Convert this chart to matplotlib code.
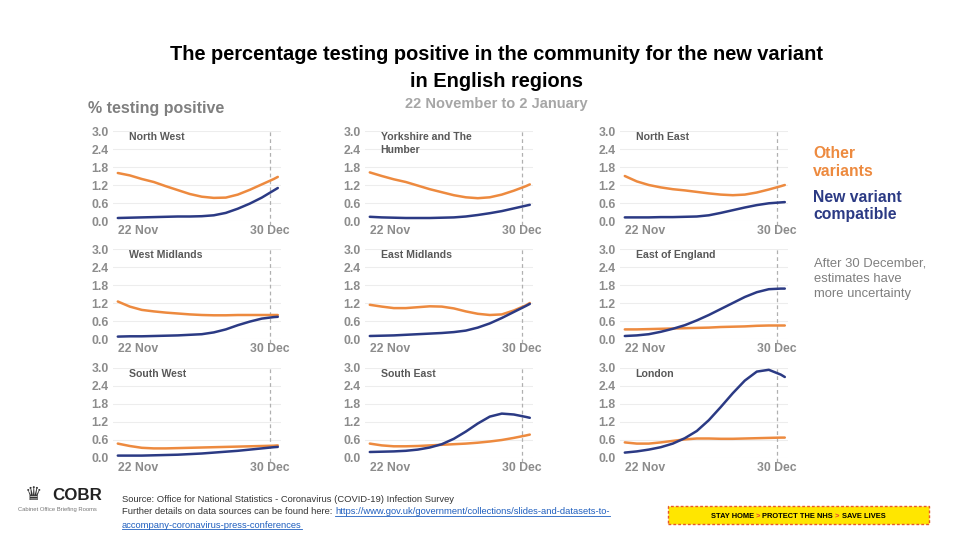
import matplotlib
matplotlib.use("Agg")
import matplotlib.pyplot as plt
import matplotlib.font_manager as fm
from matplotlib.lines import Line2D
from matplotlib.patches import Rectangle

plt.rcParams['font.family'] = ['Liberation Sans', 'DejaVu Sans']

# days since 22 Nov
days = [0, 3, 6, 9, 12, 15, 18, 21, 24, 27, 30, 33, 36, 39, 40]
tick_days = [0, 38]
tick_labels = ['22 Nov', '30 Dec']
y_ticks = [0.0, 0.6, 1.2, 1.8, 2.4, 3.0]

regions = ['North West', 'Yorkshire and The\nHumber', 'North East',
           'West Midlands', 'East Midlands', 'East of England',
           'South West', 'South East', 'London']

other_nw = [1.60, 1.52, 1.40, 1.30, 1.16, 1.03, 0.90, 0.81, 0.77, 0.78, 0.88, 1.04, 1.22, 1.40, 1.47]
new_nw = [0.10, 0.11, 0.12, 0.13, 0.14, 0.15, 0.15, 0.16, 0.19, 0.27, 0.41, 0.58, 0.78, 1.02, 1.10]
other_yh = [1.62, 1.50, 1.39, 1.30, 1.18, 1.06, 0.96, 0.86, 0.79, 0.76, 0.79, 0.88, 1.01, 1.16, 1.22]
new_yh = [0.14, 0.12, 0.11, 0.10, 0.10, 0.10, 0.11, 0.12, 0.15, 0.20, 0.26, 0.33, 0.42, 0.51, 0.54]
other_ne = [1.50, 1.32, 1.20, 1.12, 1.06, 1.02, 0.97, 0.92, 0.88, 0.86, 0.88, 0.95, 1.05, 1.16, 1.20]
new_ne = [0.12, 0.12, 0.12, 0.13, 0.13, 0.14, 0.15, 0.19, 0.27, 0.36, 0.45, 0.53, 0.59, 0.62, 0.63]
other_wm = [1.25, 1.08, 0.97, 0.92, 0.88, 0.85, 0.82, 0.80, 0.79, 0.79, 0.80, 0.80, 0.80, 0.80, 0.80]
new_wm = [0.08, 0.09, 0.09, 0.10, 0.11, 0.12, 0.14, 0.16, 0.22, 0.32, 0.46, 0.58, 0.68, 0.73, 0.74]
other_em = [1.14, 1.08, 1.03, 1.03, 1.06, 1.09, 1.08, 1.02, 0.92, 0.84, 0.80, 0.82, 0.95, 1.12, 1.20]
new_em = [0.10, 0.11, 0.12, 0.14, 0.16, 0.18, 0.20, 0.23, 0.28, 0.38, 0.52, 0.70, 0.90, 1.10, 1.17]
other_ee = [0.32, 0.32, 0.33, 0.34, 0.35, 0.36, 0.37, 0.38, 0.40, 0.41, 0.42, 0.44, 0.45, 0.45, 0.45]
new_ee = [0.10, 0.12, 0.16, 0.24, 0.34, 0.46, 0.62, 0.80, 1.00, 1.20, 1.40, 1.56, 1.66, 1.68, 1.68]
other_sw = [0.48, 0.40, 0.34, 0.32, 0.32, 0.33, 0.34, 0.35, 0.36, 0.37, 0.38, 0.39, 0.40, 0.41, 0.42]
new_sw = [0.08, 0.08, 0.08, 0.09, 0.10, 0.11, 0.13, 0.15, 0.18, 0.21, 0.24, 0.28, 0.32, 0.36, 0.37]
other_se = [0.48, 0.42, 0.39, 0.39, 0.40, 0.42, 0.44, 0.46, 0.48, 0.51, 0.55, 0.60, 0.67, 0.75, 0.78]
new_se = [0.20, 0.21, 0.22, 0.24, 0.28, 0.35, 0.46, 0.64, 0.88, 1.15, 1.38, 1.48, 1.45, 1.37, 1.34]
other_ld = [0.52, 0.48, 0.48, 0.52, 0.57, 0.62, 0.65, 0.65, 0.64, 0.64, 0.65, 0.66, 0.67, 0.68, 0.68]
new_ld = [0.18, 0.22, 0.28, 0.36, 0.48, 0.66, 0.90, 1.26, 1.70, 2.16, 2.58, 2.88, 2.94, 2.78, 2.70]

other_variants = [other_nw, other_yh, other_ne, other_wm, other_em, other_ee, other_sw, other_se, other_ld]
new_variant = [new_nw, new_yh, new_ne, new_wm, new_em, new_ee, new_sw, new_se, new_ld]

ORANGE = '#ED8A3F'
NAVY = '#2B3A84'
W, H = 960, 538

fig = plt.figure(figsize=(9.6, 5.38), dpi=100)
fig.patch.set_facecolor('white')

col_left = [113, 365, 620]
row_zero = [221, 339, 458]

for i in range(9):
    r, c = divmod(i, 3)
    ax = fig.add_axes([col_left[c] / W, (H - row_zero[r]) / H, 168 / W, 90 / H])
    ax.set_xlim(-1.2, 40.8)
    ax.set_ylim(0, 3)
    ax.set_yticks(y_ticks)
    ax.set_yticklabels(['%.1f' % v for v in y_ticks])
    ax.set_xticks(tick_days)
    ax.set_xticklabels(tick_labels)
    ax.get_xticklabels()[0].set_ha('left')
    ax.yaxis.grid(True, color='#ededed', lw=0.8)
    ax.set_axisbelow(True)
    for sp in ax.spines.values():
        sp.set_visible(False)
    ax.tick_params(length=0, labelsize=8.8, labelcolor='#8c8c8c', pad=3)
    for lbl in ax.get_xticklabels() + ax.get_yticklabels():
        lbl.set_fontweight('bold')
    ax.axvline(38, ymin=-0.04, color='#b0b0b0', lw=0.9, ls=(0, (3, 2.5)), clip_on=False)
    ax.plot(days, other_variants[i], color=ORANGE, lw=1.8, clip_on=False, solid_capstyle='round')
    ax.plot(days, new_variant[i], color=NAVY, lw=1.8, clip_on=False, solid_capstyle='round')
    ax.text(2.7, 2.96, regions[i], fontsize=7.6, fontweight='bold', color='#595959',
            va='top', ha='left', linespacing=1.3)

# titles
fig.text(496 / W, 1 - 68 / H,
         'The percentage testing positive in the community for the new variant\nin English regions',
         ha='center', va='center', fontsize=14.4, fontweight='bold', color='black', linespacing=1.5)
fig.text(88 / W, 1 - 108 / H, '% testing positive', ha='left', va='center',
         fontsize=11.5, fontweight='bold', color='#7f7f7f')
fig.text(496 / W, 1 - 104 / H, '22 November to 2 January', ha='center', va='center',
         fontsize=10.5, fontweight='bold', color='#a6a6a6')

# legend text
fig.text(813 / W, 1 - 163 / H, 'Other\nvariants', ha='left', va='center',
         fontsize=11.3, fontweight='bold', color=ORANGE, linespacing=1.25)
fig.text(813 / W, 1 - 206 / H, 'New variant\ncompatible', ha='left', va='center',
         fontsize=11.3, fontweight='bold', color=NAVY, linespacing=1.25)
fig.text(814 / W, 1 - 279 / H, 'After 30 December,\nestimates have\nmore uncertainty',
         ha='left', va='center', fontsize=9.4, color='#7f7f7f', linespacing=1.35)

# logo
fig.text(34 / W, 1 - 495 / H, '\u265b', ha='center', va='center', fontsize=14,
         color='#333333', family='DejaVu Sans')
fig.text(52 / W, 1 - 495 / H, 'COBR', ha='left', va='center', fontsize=12.2,
         fontweight='bold', color='#222222')
fig.text(18 / W, 1 - 509 / H, 'Cabinet Office Briefing Rooms', ha='left', va='center',
         fontsize=4.2, color='#777777')

# source
renderer = fig.canvas.get_renderer()
LINK = '#1F5FBF'
FS = 6.75
fig.text(122 / W, 1 - 499 / H,
         'Source: Office for National Statistics - Coronavirus (COVID-19) Infection Survey',
         ha='left', va='center', fontsize=FS, color='#333333')
t0 = fig.text(122 / W, 1 - 512 / H, 'Further details on data sources can be found here: ',
              ha='left', va='center', fontsize=FS, color='#333333')
bb = t0.get_window_extent(renderer)
links = [(bb.x1, 512, 'https://www.gov.uk/government/collections/slides-and-datasets-to-'),
         (122, 525, 'accompany-coronavirus-press-conferences')]
for x, y, s in links:
    t = fig.text(x / W, 1 - y / H, s, ha='left', va='center', fontsize=FS, color=LINK)
    e = t.get_window_extent(renderer)
    fig.add_artist(Line2D([e.x0 / W, e.x1 / W], [(e.y0 + 0.8) / H] * 2, color=LINK, lw=0.6,
                          transform=fig.transFigure))

# banner
names = {f.name for f in fm.fontManager.ttflist}
bfam = 'Liberation Sans Narrow' if 'Liberation Sans Narrow' in names else 'Liberation Sans'
bsize = 6.2 if bfam == 'Liberation Sans Narrow' else 5.4
fig.add_artist(Rectangle((668 / W, (H - 524) / H), 261 / W, 18 / H, transform=fig.transFigure,
                         facecolor='#FFE600', edgecolor='#E8562A', lw=1.0, ls=(0, (2, 1.5))))
pieces = [('STAY HOME ', 'black'), ('> ', '#E8402A'), ('PROTECT THE NHS ', 'black'),
          ('> ', '#E8402A'), ('SAVE LIVES', 'black')]
arts = []
for s, col in pieces:
    arts.append(fig.text(0, 1 - 516 / H, s, ha='left', va='center', fontsize=bsize,
                         fontweight='bold', color=col, family=bfam))
widths = [a.get_window_extent(renderer).width for a in arts]
x = 798 - sum(widths) / 2
for a, w in zip(arts, widths):
    a.set_x(x / W)
    x += w

fig.savefig('out.png', dpi=100, facecolor='white')
